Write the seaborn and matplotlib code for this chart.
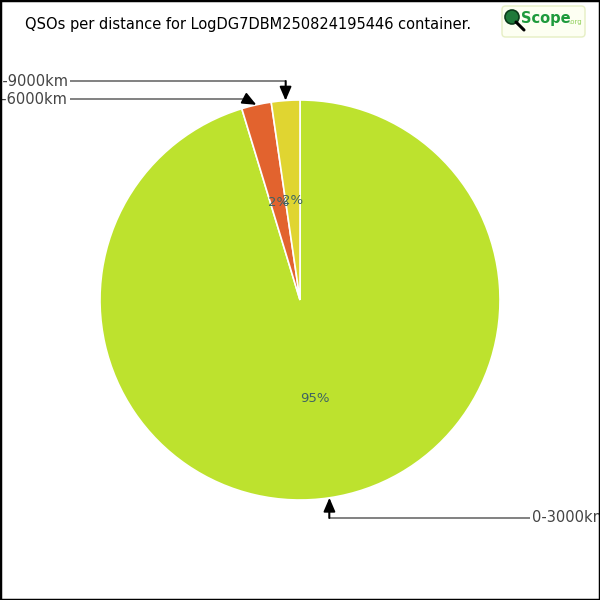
import numpy as np
import matplotlib
matplotlib.use("Agg")
import matplotlib.pyplot as plt
import seaborn as sns
from matplotlib.patches import FancyBboxPatch, Circle, Rectangle

sns.set_theme(style="white")
plt.rcParams['font.family'] = ['DejaVu Sans']

title = "QSOs per distance for LogDG7DBM250824195446 container."
categories = ["0-3000km", "3000-6000km", "6000-9000km"]
values = [95.3, 2.4, 2.3]
colors = ["#BDE22E", "#E2632E", "#E0D531"]
pct_labels = ["95%", "2%", "2%"]

fig = plt.figure(figsize=(6, 6), dpi=100)
fig.patch.set_facecolor("white")
ax = fig.add_axes([0, 0, 1, 1])

def px(x, y):
    return ((x - 300) / 200.0, (300 - y) / 200.0)

wedges, _ = ax.pie(values, colors=colors, startangle=90, counterclock=False,
                   radius=1.0, center=(0, 0),
                   wedgeprops=dict(edgecolor="white", linewidth=1.2))
ax.set_xlim(-1.5, 1.5)
ax.set_ylim(-1.5, 1.5)
ax.set_aspect("equal")
ax.axis("off")

for w, lab in zip(wedges, pct_labels):
    mid = np.deg2rad((w.theta1 + w.theta2) / 2)
    ax.text(0.5 * np.cos(mid), 0.5 * np.sin(mid), lab, ha="center", va="center",
            fontsize=9.5, color="#3e6363")

# callouts: text anchor (px), bend x offset relative to tip
text_pos = [(530, 518), (70, 99), (70, 81)]
text_ha = ["left", "right", "right"]
bend_dx = [0, -11, 0]
for w, lab, (tx, ty), ha, bdx in zip(wedges, categories, text_pos, text_ha, bend_dx):
    mid = np.deg2rad((w.theta1 + w.theta2) / 2)
    tip = (np.cos(mid), np.sin(mid))
    tipx = 300 + 200 * tip[0]
    bend = px(tipx + bdx, ty)
    t = px(tx, ty)
    ax.plot([t[0], bend[0]], [t[1], bend[1]], color="#777777", lw=1.3,
            solid_capstyle="butt")
    ax.annotate("", xy=tip, xytext=bend,
                arrowprops=dict(arrowstyle="-|>,head_length=0.7,head_width=0.3",
                                color="black", lw=1.3, shrinkA=0, shrinkB=0),
                zorder=5)
    ax.plot([bend[0], bend[0] + (tip[0] - bend[0]) * 0.4],
            [bend[1], bend[1] + (tip[1] - bend[1]) * 0.4], color="#777777", lw=1.3)
    ax.text(t[0] + (0.01 if ha == "left" else -0.01), t[1], lab, ha=ha, va="center",
            fontsize=10.5, color="#444444")

# title
fig.text(25 / 600, 1 - 25 / 600, title, ha="left", va="center", fontsize=10.5,
         color="black")

# logo
box = FancyBboxPatch((502 / 600, 1 - 37 / 600), 83 / 600, 31 / 600,
                     boxstyle="round,pad=0,rounding_size=0.006",
                     transform=fig.transFigure, facecolor="#fdfff2",
                     edgecolor="#e6efc4", lw=1)
fig.patches.append(box)
fig.patches.append(Circle((512 / 600, 1 - 17 / 600), 7 / 600, transform=fig.transFigure,
                          facecolor="#1f7a3a", edgecolor="#0b3d1a", lw=1.2))
fig.lines.append(matplotlib.lines.Line2D([516 / 600, 524 / 600], [1 - 22 / 600, 1 - 30 / 600],
                                         transform=fig.transFigure, color="black", lw=2.2))
fig.text(521 / 600, 1 - 18 / 600, "Scope", ha="left", va="center", fontsize=10.5,
         fontweight="bold", color="#1e9a3c")
fig.text(568 / 600, 1 - 22 / 600, ".org", ha="left", va="center", fontsize=5,
         color="#8fcf5a")

# border
fig.patches.append(Rectangle((0, 0), 1, 1, transform=fig.transFigure, fill=False,
                             edgecolor="black", lw=2.5))

fig.savefig("out.png", dpi=100, facecolor="white")
